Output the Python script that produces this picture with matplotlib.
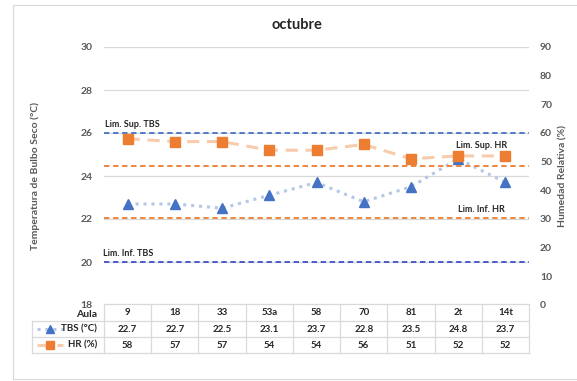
import matplotlib.pyplot as plt
from matplotlib.transforms import blended_transform_factory
from matplotlib.lines import Line2D
from matplotlib.patches import Rectangle

plt.rcParams['font.family'] = ['Lato', 'DejaVu Sans']

aulas = ['9', '18', '33', '53a', '58', '70', '81', '2t', '14t']
tbs = [22.7, 22.7, 22.5, 23.1, 23.7, 22.8, 23.5, 24.8, 23.7]
hr = [58, 57, 57, 54, 54, 56, 51, 52, 52]

lim_sup_tbs = 26
lim_inf_tbs = 20
lim_sup_hr = 48.5
lim_inf_hr = 30.5

W, H = 577, 381
fig = plt.figure(figsize=(W / 100, H / 100), dpi=100)
ax = fig.add_axes([104 / W, 1 - 305 / H, 425 / W, 258 / H])
ax2 = ax.twinx()

gray_txt = '#595959'
blue = '#4472C4'
orange = '#ED7D31'

# chart frame
fig.patches.append(Rectangle((13 / W, 1 - 379 / H), 1.2, 374 / H,
                             transform=fig.transFigure, fill=False,
                             edgecolor='#D9D9D9', lw=0.8))

x = list(range(len(aulas)))
ax.set_xlim(-0.5, len(aulas) - 0.5)
ax.set_ylim(18, 30)
ax2.set_ylim(0, 90)
ax.set_yticks(range(18, 31, 2))
ax2.set_yticks(range(0, 91, 10))
ax.set_xticks([])
ax.grid(axis='y', color='#D9D9D9', lw=0.9)
ax.set_axisbelow(True)
for a in (ax, ax2):
    for s in a.spines.values():
        s.set_visible(False)
    a.tick_params(axis='y', length=0, labelsize=7.5, colors=gray_txt, pad=8)
    for t in a.get_yticklabels():
        t.set_fontweight('bold')

# limit lines
ax.axhline(lim_sup_tbs, color=blue, ls=(0, (3, 2)), lw=1.3)
ax.axhline(lim_inf_tbs, color='#3F51C8', ls=(0, (3, 2)), lw=1.3)
ax2.axhline(lim_sup_hr, color=orange, ls=(0, (3, 2)), lw=1.3)
ax2.axhline(lim_inf_hr, color=orange, ls=(0, (3, 2)), lw=1.3)

txt_kw = dict(fontsize=6.5, fontweight='bold', color='#262626')
ax.text(-0.48, lim_sup_tbs + 0.2, 'Lim. Sup. TBS', ha='left', va='bottom', **txt_kw)
ax.text(-0.53, lim_inf_tbs + 0.2, 'Lim. Inf. TBS', ha='left', va='bottom', **txt_kw)
ax2.text(7.5, lim_sup_hr + 5.5, 'Lim. Sup. HR', ha='center', va='bottom', **txt_kw)
ax2.text(7.5, lim_inf_hr + 1.2, 'Lim. Inf. HR', ha='center', va='bottom', **txt_kw)

# series
ax2.plot(x, hr, color='#F8CBAD', ls=(0, (4, 2.5)), lw=2.2, marker='s',
         ms=6.5, mfc=orange, mec=orange, zorder=3)
ax.plot(x, tbs, color='#B4C7E7', ls=(0, (1, 1.6)), lw=2.2, marker='^',
        ms=7, mfc=blue, mec=blue, zorder=4)

fig.text(297 / W, 1 - 25 / H, 'octubre', ha='center', va='center',
         fontsize=10.5, fontweight='bold', color='#262626')
fig.text(35 / W, 1 - 176 / H, 'Temperatura de Bulbo Seco (°C)', rotation=90,
         ha='center', va='center', fontsize=7.5, fontweight='bold', color=gray_txt)
fig.text(563 / W, 1 - 176 / H, 'Humedad Relativa (%)', rotation=90,
         ha='center', va='center', fontsize=7.5, fontweight='bold', color=gray_txt)

# data table under the axis
tr = blended_transform_factory(ax.transData, fig.transFigure)
rows_px = [304, 321, 337, 353]
rows = [1 - r / H for r in rows_px]
left_lab = (32 - 104) / (425 / len(aulas)) - 0.5
grid_c = '#D9D9D9'
for i, yv in enumerate(rows):
    x0 = -0.5 if i == 0 else left_lab
    fig.add_artist(Line2D([x0, len(aulas) - 0.5], [yv, yv], transform=tr,
                          color=grid_c, lw=0.9))
for k in range(len(aulas) + 1):
    fig.add_artist(Line2D([k - 0.5, k - 0.5], [rows[0], rows[-1]], transform=tr,
                          color=grid_c, lw=0.9))
fig.add_artist(Line2D([left_lab, left_lab], [rows[1], rows[-1]], transform=tr,
                      color=grid_c, lw=0.9))

cell_kw = dict(fontsize=7, fontweight='bold', color='#262626',
               ha='center', va='center', transform=tr)
for i in x:
    fig.text(i, (rows[0] + rows[1]) / 2, aulas[i], **cell_kw)
    fig.text(i, (rows[1] + rows[2]) / 2, f'{tbs[i]:.1f}', **cell_kw)
    fig.text(i, (rows[2] + rows[3]) / 2, f'{hr[i]}', **cell_kw)

lab_x = -0.65
lab_kw = dict(fontsize=7, fontweight='bold', color='#262626',
              ha='right', va='center', transform=tr)
fig.text(lab_x, (rows[0] + rows[1]) / 2 - 0.004, 'Aula', fontsize=7.5,
         fontweight='bold', color='#262626', ha='right', va='center', transform=tr)
fig.text(lab_x, (rows[1] + rows[2]) / 2, 'TBS (°C)', **lab_kw)
fig.text(lab_x, (rows[2] + rows[3]) / 2, 'HR (%)', **lab_kw)

# legend keys inside the table
ky1 = (rows[1] + rows[2]) / 2
ky2 = (rows[2] + rows[3]) / 2
kx = [left_lab + 0.1, left_lab + 0.65]
kmid = (kx[0] + kx[1]) / 2
fig.add_artist(Line2D(kx, [ky1, ky1], transform=tr, color='#B4C7E7',
                      ls=(0, (1, 1.6)), lw=2.2))
fig.add_artist(Line2D([kmid], [ky1], transform=tr, marker='^', ms=6,
                      color=blue, ls='none'))
fig.add_artist(Line2D(kx, [ky2, ky2], transform=tr, color='#F8CBAD',
                      ls=(0, (4, 2.5)), lw=2.2))
fig.add_artist(Line2D([kmid], [ky2], transform=tr, marker='s', ms=5.5,
                      color=orange, ls='none'))

fig.savefig('out.png', dpi=100, facecolor='white')
